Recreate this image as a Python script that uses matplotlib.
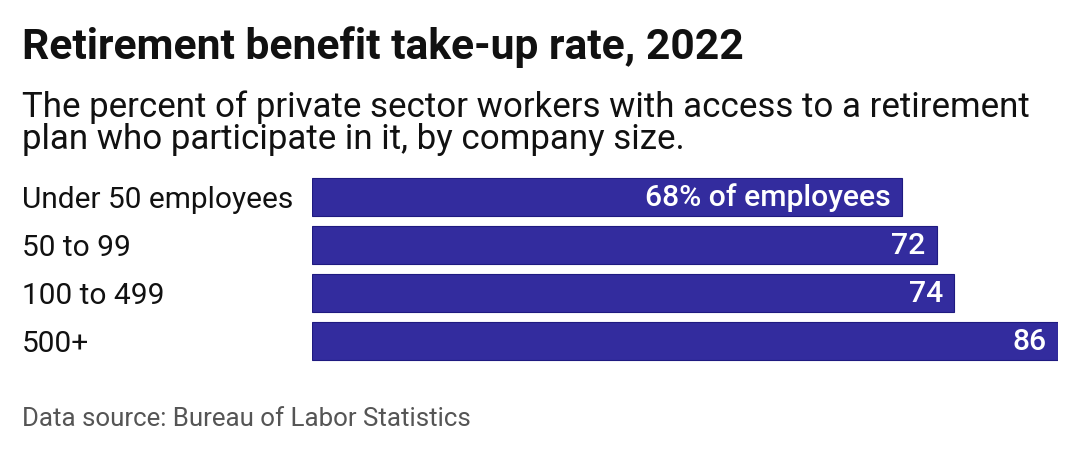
import matplotlib
matplotlib.use("Agg")
import matplotlib.pyplot as plt

plt.rcParams["font.family"] = ["Roboto", "DejaVu Sans"]

categories = ["Under 50 employees", "50 to 99", "100 to 499", "500+"]
values = [68, 72, 74, 86]
value_labels = ["68% of employees", "72", "74", "86"]

W, H = 1080, 452
BAR = "#332c9e"
EDGE = "#1f1a80"


def fy(px):
    return 1 - px / H


fig = plt.figure(figsize=(W / 100, H / 100), dpi=100)
fig.patch.set_facecolor("white")

fig.text(22 / W, fy(59), "Retirement benefit take-up rate, 2022",
         fontsize=30.7, fontweight="bold", color="#111111", va="baseline", ha="left")
fig.text(22 / W, fy(117), "The percent of private sector workers with access to a retirement",
         fontsize=25.1, color="#111111", va="baseline", ha="left")
fig.text(22 / W, fy(149), "plan who participate in it, by company size.",
         fontsize=25.1, color="#111111", va="baseline", ha="left")
fig.text(22 / W, fy(426), "Data source: Bureau of Labor Statistics",
         fontsize=18.6, color="#555555", va="baseline", ha="left")

# bars region: x 312..1058 px maps 0..86
ax = fig.add_axes([312 / W, fy(366), (1058 - 312) / W, 192 / H])
ypos = list(range(len(categories)))
ax.barh(ypos, values, height=0.81, color=BAR, edgecolor=EDGE, linewidth=0.8)
ax.set_xlim(0, max(values))
ax.set_ylim(len(categories) - 0.5, -0.5)
ax.axis("off")

for y, v, lab, cat in zip(ypos, values, value_labels, categories):
    ax.annotate(lab, (v, y), xytext=(-11, -8), textcoords="offset pixels",
                ha="right", va="baseline", color="white", fontsize=21.7,
                fontweight="medium")
    ax.annotate(cat, (0, y), xytext=(22 - 312, -10), textcoords="offset pixels",
                ha="left", va="baseline", color="#111111", fontsize=21.5)

fig.savefig("out.png", dpi=100)
